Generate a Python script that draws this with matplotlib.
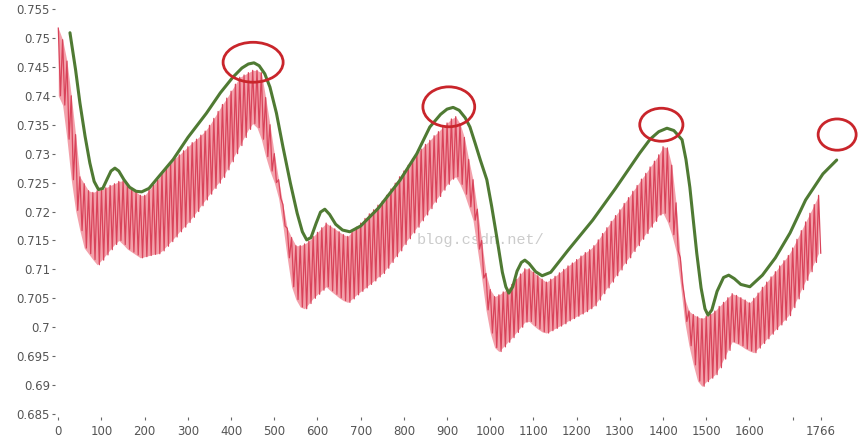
import numpy as np
import matplotlib
matplotlib.use("Agg")
import matplotlib.pyplot as plt
from matplotlib.patches import Ellipse

# -------------------------------
# Data
# -------------------------------
# red series: one oscillation every 10 steps, low / high value of each swing
red_x = np.arange(0, 1770, 10)
red_hi = [
    0.7517, 0.7497, 0.7460, 0.7400, 0.7333, 0.7260, 0.7248, 0.7236, 0.7233, 0.7236,
    0.7238, 0.7241, 0.7245, 0.7248, 0.7252, 0.7253, 0.7246, 0.7240, 0.7234, 0.7228,
    0.7228, 0.7237, 0.7246, 0.7255, 0.7265, 0.7274, 0.7283, 0.7292, 0.7298, 0.7305,
    0.7312, 0.7319, 0.7325, 0.7332, 0.7339, 0.7349, 0.7361, 0.7373, 0.7385, 0.7396,
    0.7408, 0.7420, 0.7432, 0.7436, 0.7440, 0.7444, 0.7444, 0.7440, 0.7397, 0.7350,
    0.7300, 0.7255, 0.7212, 0.7171, 0.7155, 0.7141, 0.7141, 0.7144, 0.7149, 0.7157,
    0.7164, 0.7172, 0.7180, 0.7175, 0.7170, 0.7165, 0.7160, 0.7157, 0.7165, 0.7173,
    0.7180, 0.7188, 0.7196, 0.7203, 0.7211, 0.7218, 0.7228, 0.7239, 0.7249, 0.7260,
    0.7270, 0.7280, 0.7291, 0.7301, 0.7308, 0.7316, 0.7323, 0.7331, 0.7338, 0.7346,
    0.7353, 0.7360, 0.7364, 0.7352, 0.7328, 0.7290, 0.7255, 0.7204, 0.7150, 0.7093,
    0.7065, 0.7053, 0.7056, 0.7061, 0.7066, 0.7074, 0.7083, 0.7092, 0.7101, 0.7101,
    0.7095, 0.7089, 0.7083, 0.7078, 0.7083, 0.7088, 0.7094, 0.7100, 0.7106, 0.7111,
    0.7117, 0.7123, 0.7129, 0.7134, 0.7141, 0.7151, 0.7162, 0.7172, 0.7183, 0.7193,
    0.7203, 0.7214, 0.7224, 0.7235, 0.7245, 0.7256, 0.7266, 0.7277, 0.7287, 0.7298,
    0.7312, 0.7310, 0.7280, 0.7215, 0.7120, 0.7050, 0.7028, 0.7022, 0.7018, 0.7015,
    0.7019, 0.7023, 0.7028, 0.7036, 0.7043, 0.7051, 0.7058, 0.7055, 0.7051, 0.7047,
    0.7042, 0.7050, 0.7059, 0.7069, 0.7078, 0.7087, 0.7096, 0.7106, 0.7115, 0.7124,
    0.7137, 0.7152, 0.7167, 0.7182, 0.7197, 0.7212, 0.7228,
]
red_lo = [
    0.7400, 0.7384, 0.7325, 0.7255, 0.7202, 0.7167, 0.7137, 0.7127, 0.7117, 0.7108,
    0.7116, 0.7125, 0.7134, 0.7143, 0.7150, 0.7143, 0.7135, 0.7130, 0.7125, 0.7120,
    0.7122, 0.7124, 0.7126, 0.7127, 0.7132, 0.7140, 0.7148, 0.7156, 0.7165, 0.7173,
    0.7181, 0.7190, 0.7200, 0.7210, 0.7220, 0.7230, 0.7240, 0.7249, 0.7259, 0.7272,
    0.7286, 0.7300, 0.7314, 0.7328, 0.7342, 0.7352, 0.7345, 0.7325, 0.7295, 0.7270,
    0.7250, 0.7223, 0.7175, 0.7120, 0.7070, 0.7048, 0.7035, 0.7032, 0.7041, 0.7050,
    0.7057, 0.7064, 0.7070, 0.7063, 0.7057, 0.7051, 0.7046, 0.7043, 0.7049, 0.7056,
    0.7062, 0.7068, 0.7074, 0.7080, 0.7087, 0.7093, 0.7102, 0.7112, 0.7122, 0.7132,
    0.7143, 0.7153, 0.7163, 0.7173, 0.7184, 0.7194, 0.7205, 0.7216, 0.7226, 0.7237,
    0.7247, 0.7256, 0.7260, 0.7247, 0.7230, 0.7208, 0.7185, 0.7135, 0.7085, 0.7030,
    0.6990, 0.6965, 0.6958, 0.6966, 0.6974, 0.6982, 0.6991, 0.7000, 0.7009, 0.7010,
    0.7003, 0.6997, 0.6992, 0.6990, 0.6994, 0.6998, 0.7002, 0.7006, 0.7011, 0.7015,
    0.7019, 0.7023, 0.7027, 0.7032, 0.7037, 0.7047, 0.7058, 0.7068, 0.7078, 0.7089,
    0.7099, 0.7110, 0.7120, 0.7131, 0.7141, 0.7152, 0.7162, 0.7173, 0.7183, 0.7194,
    0.7197, 0.7182, 0.7160, 0.7132, 0.7075, 0.7010, 0.6968, 0.6935, 0.6907, 0.6898,
    0.6906, 0.6912, 0.6918, 0.6930, 0.6945, 0.6960, 0.6975, 0.6972, 0.6968, 0.6963,
    0.6959, 0.6956, 0.6964, 0.6972, 0.6980, 0.6988, 0.6996, 0.7004, 0.7012, 0.7020,
    0.7034, 0.7049, 0.7065, 0.7081, 0.7096, 0.7112, 0.7128,
]

# green smooth trend line
green_x = [
    27, 40, 50, 62, 73, 83, 93, 103, 113, 122, 131, 140, 152, 165, 180, 193, 210, 230,
    266, 300, 343, 375, 404, 425, 440, 453, 465, 478, 490, 505, 520, 537, 553, 565,
    575, 585, 597, 607, 617, 628, 642, 658, 675, 700, 740, 791, 830, 860, 885, 900,
    914, 928, 942, 953, 965, 977, 992, 1003, 1015, 1028, 1036, 1043, 1052, 1062, 1072,
    1080, 1090, 1105, 1120, 1140, 1180, 1237, 1290, 1346, 1370, 1390, 1409, 1425, 1444,
    1453, 1462, 1470, 1478, 1488, 1497, 1504, 1513, 1525, 1540, 1552, 1565, 1580, 1601,
    1630, 1660, 1694, 1730, 1770, 1802,
]
green_y = [
    0.7509, 0.7445, 0.7388, 0.7330, 0.7284, 0.7252, 0.7238, 0.7240, 0.7256, 0.7270,
    0.7275, 0.7270, 0.7255, 0.7242, 0.7235, 0.7234, 0.7240, 0.7258, 0.7290, 0.7328,
    0.7370, 0.7405, 0.7432, 0.7448, 0.7455, 0.7457, 0.7452, 0.7438, 0.7415, 0.7370,
    0.7312, 0.7250, 0.7197, 0.7165, 0.7151, 0.7155, 0.7180, 0.7199, 0.7204, 0.7195,
    0.7178, 0.7168, 0.7165, 0.7175, 0.7205, 0.7254, 0.7300, 0.7346, 0.7368, 0.7377,
    0.7380, 0.7375, 0.7362, 0.7346, 0.7318, 0.7289, 0.7255, 0.7210, 0.7156, 0.7095,
    0.7070, 0.7059, 0.7070, 0.7097, 0.7112, 0.7116, 0.7110, 0.7096, 0.7089, 0.7095,
    0.7133, 0.7185, 0.7240, 0.7301, 0.7325, 0.7338, 0.7344, 0.7340, 0.7324, 0.7290,
    0.7242, 0.7185, 0.7128, 0.7068, 0.7032, 0.7021, 0.7030, 0.7062, 0.7086, 0.7090,
    0.7084, 0.7074, 0.7070, 0.7090, 0.7120, 0.7163, 0.7220, 0.7265, 0.7289,
]

# red rings drawn over the chart (centre x, centre y, width, height)
ring_x = [451, 904, 1396, 1803]
ring_y = [0.7458, 0.7381, 0.7350, 0.7333]
ring_w = [139, 120, 100, 88]
ring_h = [0.0069, 0.0069, 0.0057, 0.0054]

x_ticks = list(range(0, 1800, 100)) + [1766]
x_labels = [str(t) for t in range(0, 1700, 100)] + ["", "1766"]
y_ticks = np.arange(0.685, 0.7551, 0.005)

# -------------------------------
# Plot
# -------------------------------
fig = plt.figure(figsize=(8.65, 4.41), dpi=100)
ax = fig.add_axes([0.0634, 0.0546, 0.9029, 0.9315])

zig_x = np.empty(2 * len(red_x))
zig_y = np.empty(2 * len(red_x))
zig_x[0::2] = red_x
zig_x[1::2] = red_x + 5
zig_y[0::2] = red_hi
zig_y[1::2] = red_lo

ax.fill_between(red_x, red_lo, red_hi, color="#f3a1ab", lw=0, zorder=1)
ax.plot(zig_x, zig_y, color="#d9435a", lw=0.9, zorder=2)
ax.plot(green_x, green_y, color="#4f7a33", lw=2.2, zorder=3,
        solid_capstyle="round", solid_joinstyle="round", clip_on=False)

for cx, cy, w, h in zip(ring_x, ring_y, ring_w, ring_h):
    ax.add_patch(Ellipse((cx, cy), w, h, fill=False, edgecolor="#c9252b",
                         lw=2.0, zorder=4, clip_on=False))

ax.text(830, 0.7151, "blog.csdn.net/", family="Liberation Mono", fontsize=11,
        color="#cccccc", va="center", ha="left", zorder=0.5)

ax.set_xlim(-8, 1800)
ax.set_ylim(0.6845, 0.7555)
ax.set_xticks(x_ticks)
ax.set_xticklabels(x_labels)
ax.set_yticks(y_ticks)
ax.set_yticklabels([f"{v:.3f}".rstrip("0") for v in y_ticks])

for s in ax.spines.values():
    s.set_visible(False)
ax.tick_params(axis="both", direction="out", length=2.5, width=0.8,
               colors="#666666", labelsize=8.5, labelcolor="#555555")
ax.tick_params(axis="y", pad=1)
ax.tick_params(axis="x", pad=3)

plt.savefig("out.png", dpi=100)
